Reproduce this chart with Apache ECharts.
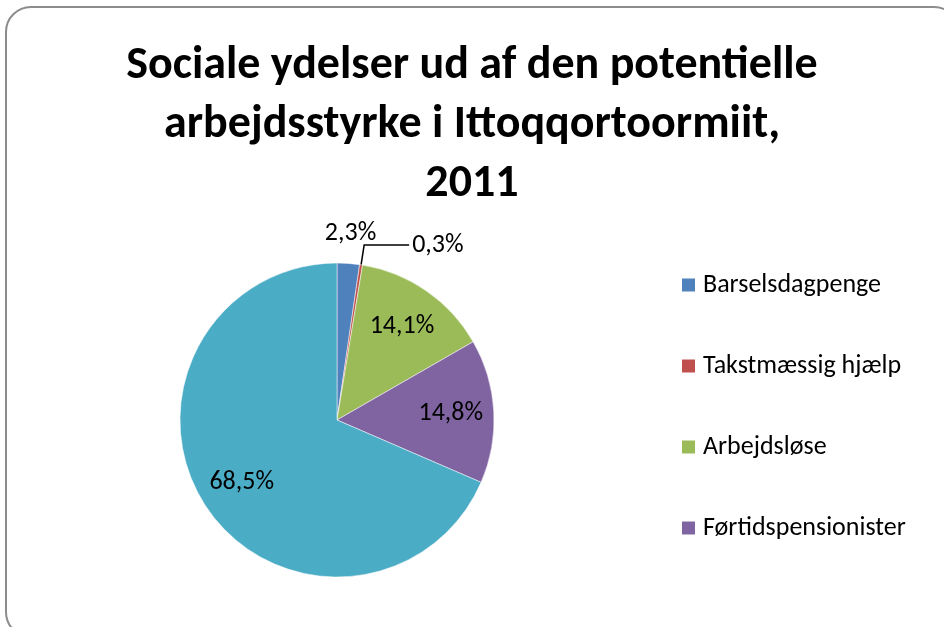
<!DOCTYPE html>
<html>
<head>
<meta charset="utf-8">
<script src="https://cdn.jsdelivr.net/npm/echarts@6/dist/echarts.min.js"></script>
<style>
html,body{margin:0;padding:0;background:#fff;}
#c{width:944px;height:627px;}
</style>
</head>
<body>
<div id="c"></div>
<script>
const titleText = 'Sociale ydelser ud af den potentielle\narbejdsstyrke i Ittoqqortoormiit,\n2011';
const categories = ['Barselsdagpenge', 'Takstmæssig hjælp', 'Arbejdsløse', 'Førtidspensionister', 'Øvrige'];
const values = [2.3, 0.3, 14.1, 14.8, 68.5];
const colors = ['#4F81BD', '#C0504D', '#9BBB59', '#8064A2', '#4BACC6'];
const legendNames = categories.slice(0, 4);

const FONT = 'Carlito, Lato, sans-serif';
const fmt = v => v.toFixed(1).replace('.', ',') + '%';
const center = [337, 420];
const R = 157;

const chart = echarts.init(document.getElementById('c'));

const mainData = categories.map((n, i) => ({
  name: n, value: values[i], itemStyle: { color: colors[i] },
  label: i === 1 ? { show: true } : { show: false },
  labelLine: i === 1 ? { show: true } : { show: false }
}));
const innerData = categories.map((n, i) => ({
  name: n, value: values[i],
  label: { show: i >= 2 }
}));
const outerData = categories.map((n, i) => ({
  name: n, value: values[i],
  label: { show: i === 0 }
}));

chart.setOption({
  animation: false,
  graphic: [{
    type: 'rect', left: 5, top: 6, z: -10,
    shape: { x: 0, y: 0, width: 953, height: 630, r: 25 },
    style: { fill: '#fff', stroke: '#8c8c8c', lineWidth: 2 }
  }],
  title: {
    text: titleText, left: 'center', top: 32,
    textStyle: { fontFamily: FONT, fontWeight: 'bold', fontSize: 46, lineHeight: 59, color: '#000' }
  },
  legend: {
    orient: 'vertical', left: 680, top: 272, padding: 0,
    data: legendNames,
    icon: 'rect', itemWidth: 15, itemHeight: 15, itemGap: 55,
    textStyle: { fontFamily: FONT, fontSize: 26, color: '#000', padding: [0, 0, 0, 2] },
    selectedMode: false
  },
  series: [{
    type: 'pie', center: center, radius: [0, R], startAngle: 90, clockwise: true,
    silent: true, data: mainData,
    itemStyle: { borderColor: '#fff', borderWidth: 0.5 },
    label: { position: 'outside', fontFamily: FONT, fontSize: 26, color: '#000',
      formatter: p => fmt(p.value), distanceToLabelLine: 3 },
    labelLine: { length: 20, length2: 45, lineStyle: { color: '#000', width: 1.5 } }
  }, {
    type: 'pie', center: center, radius: [66, 156], startAngle: 90, clockwise: true,
    silent: true, data: innerData,
    itemStyle: { color: 'rgba(0,0,0,0)' },
    label: { position: 'inside', fontFamily: FONT, fontSize: 26, color: '#000',
      formatter: p => fmt(p.value) },
    labelLine: { show: false }
  }, {
    type: 'pie', center: center, radius: [177, 191], startAngle: 90, clockwise: true,
    silent: true, data: outerData,
    itemStyle: { color: 'rgba(0,0,0,0)' },
    label: { position: 'inside', fontFamily: FONT, fontSize: 26, color: '#000',
      formatter: p => fmt(p.value) },
    labelLine: { show: false }
  }]
});
</script>
</body>
</html>
